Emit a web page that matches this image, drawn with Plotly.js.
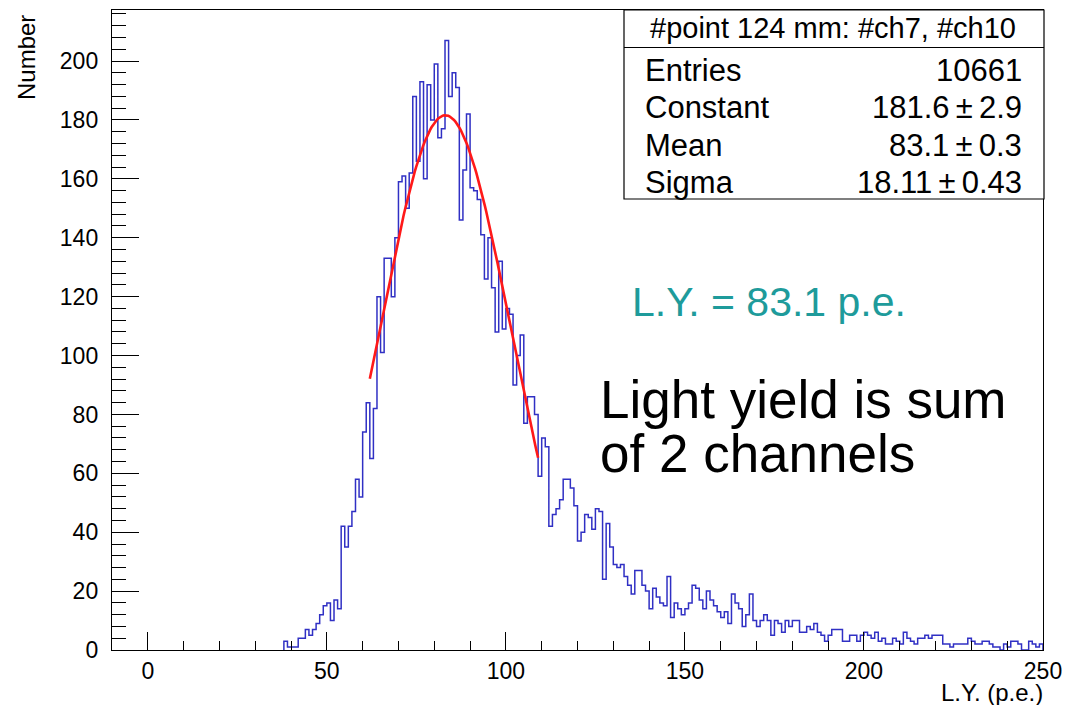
<!DOCTYPE html>
<html>
<head>
<meta charset="utf-8">
<script src="https://cdn.plot.ly/plotly-3.0.1.min.js"></script>
<style>html,body{margin:0;padding:0;background:#fff;}#chart{width:1065px;height:705px;}</style>
</head>
<body>
<div id="chart"></div>
<script>
// Histogram: bins of width 1 p.e., first bin starts at 38
const binStart = 38;
const binWidth = 1;
const counts = [
  3,1,1,1,4,4,7,5,7,9,
  12,15,16,10,17,14,42,35,42,47,
  58,52,74,84,65,82,120,101,133,133,
  120,140,159,161,150,162,188,166,193,160,
  192,180,199,174,177,207,188,196,191,146,
  163,182,157,156,153,141,126,140,123,108,
  132,109,116,114,90,100,107,77,86,86,
  80,59,72,69,42,46,48,51,58,58,
  55,49,37,40,46,45,41,48,47,24,
  43,35,29,28,29,25,22,19,27,27,
  22,20,14,21,18,16,15,25,11,16,
  14,12,14,16,22,21,17,14,20,17,
  15,13,11,13,9,19,16,14,8,12,
  19,10,8,10,12,10,5,10,9,6,
  10,8,10,10,6,6,8,7,9,6,
  5,3,5,7,7,7,3,3,5,5,
  3,5,6,5,4,6,3,4,2,2,
  4,3,2,6,4,3,2,4,4,5,
  4,5,5,5,2,2,1,2,2,2,
  2,4,3,2,2,3,3,2,1,1,
  0,2,1,3,3,2,0,0,3,2,
  1,2
];

// Gaussian fit parameters (from stats box) and fit range
const fitConstant = 181.6;
const fitMean = 83.1;
const fitSigma = 18.11;
const fitRange = [62, 109];

const statsTitle = '#point 124 mm: #ch7, #ch10';
const statsLabels = ['Entries', 'Constant', 'Mean', 'Sigma'];
const statsValues = ['10661', '181.6\u2009\u00b1\u20092.9', '83.1\u2009\u00b1\u20090.3', '18.11\u2009\u00b1\u20090.43'];

const xTitle = 'L.Y. (p.e.)';
const yTitle = 'Number';
const lyText = 'L.Y. = 83.1 p.e.';
const noteLines = ['Light yield is sum', 'of 2 channels'];

// build histogram outline
const hx = [binStart], hy = [0];
for (let i = 0; i < counts.length; i++) {
  hx.push(binStart + i * binWidth);
  hy.push(counts[i]);
}
hx.push(binStart + counts.length * binWidth); hy.push(counts[counts.length - 1]);
hx.push(binStart + counts.length * binWidth); hy.push(0);

// fit curve
const fx = [], fy = [];
const nF = 120;
for (let i = 0; i <= nF; i++) {
  const x = fitRange[0] + (fitRange[1] - fitRange[0]) * i / nF;
  fx.push(x);
  fy.push(fitConstant * Math.exp(-0.5 * Math.pow((x - fitMean) / fitSigma, 2)));
}

const FONT = 'Liberation Sans, Arial, Helvetica, sans-serif';

const traces = [
  {x: hx, y: hy, type: 'scatter', mode: 'lines', line: {shape: 'hv', color: 'rgb(48,48,196)', width: 1.5}, hoverinfo: 'skip'},
  {x: fx, y: fy, type: 'scatter', mode: 'lines', line: {color: 'rgb(255,25,25)', width: 2.6}, hoverinfo: 'skip'}
];

// layout geometry helpers (pixels -> paper)
const L = 112, R = 1043, T = 10, B = 650;
const px = v => (v - L) / (R - L);
const py = v => (B - v) / (B - T);

const annotations = [
  {text: yTitle, xref: 'paper', yref: 'paper', x: px(27), y: py(58), textangle: -90, showarrow: false,
   xanchor: 'center', yanchor: 'middle', font: {family: FONT, size: 24, color: '#000'}},
  {text: xTitle, xref: 'paper', yref: 'paper', x: px(1045), y: py(692), showarrow: false,
   xanchor: 'right', yanchor: 'middle', font: {family: FONT, size: 24, color: '#000'}},
  {text: statsTitle, xref: 'paper', yref: 'paper', x: px(833), y: py(28), showarrow: false,
   xanchor: 'center', yanchor: 'middle', font: {family: FONT, size: 29, color: '#000'}},
  {text: lyText, xref: 'paper', yref: 'paper', x: px(630), y: py(302), showarrow: false,
   xanchor: 'left', yanchor: 'middle', font: {family: FONT, size: 41, color: 'rgb(30,155,155)'}},
  {text: noteLines[0], xref: 'paper', yref: 'paper', x: px(598), y: py(399), showarrow: false,
   xanchor: 'left', yanchor: 'middle', font: {family: FONT, size: 53, color: '#000'}},
  {text: noteLines[1], xref: 'paper', yref: 'paper', x: px(598), y: py(453), showarrow: false,
   xanchor: 'left', yanchor: 'middle', font: {family: FONT, size: 53, color: '#000'}}
];
const rowY = [70, 108, 145, 182];
statsLabels.forEach((s, i) => {
  annotations.push({text: s, xref: 'paper', yref: 'paper', x: px(643), y: py(rowY[i]), showarrow: false,
    xanchor: 'left', yanchor: 'middle', font: {family: FONT, size: 31, color: '#000'}});
  annotations.push({text: statsValues[i], xref: 'paper', yref: 'paper', x: px(1024), y: py(rowY[i]), showarrow: false,
    xanchor: 'right', yanchor: 'middle', font: {family: FONT, size: 31, color: '#000'}});
});

const shapes = [
  {type: 'rect', xref: 'paper', yref: 'paper', x0: px(624), x1: px(1044), y0: py(199), y1: py(10),
   line: {color: '#000', width: 1.2}, fillcolor: 'rgba(255,255,255,1)', layer: 'above'},
  {type: 'line', xref: 'paper', yref: 'paper', x0: px(624), x1: px(1044), y0: py(47.5), y1: py(47.5),
   line: {color: '#000', width: 1.2}, layer: 'above'}
];

const layout = {
  width: 1065, height: 705,
  margin: {l: L, r: 1065 - R, t: T, b: 705 - B, pad: 0},
  paper_bgcolor: '#fff', plot_bgcolor: '#fff',
  showlegend: false,
  font: {family: FONT, color: '#000'},
  xaxis: {
    range: [-10, 250], showgrid: false, zeroline: false,
    showline: true, linecolor: '#000', linewidth: 1.2, mirror: true,
    ticks: 'inside', ticklen: 18, tickwidth: 1, tickcolor: '#000',
    tick0: 0, dtick: 50, tickfont: {family: FONT, size: 23, color: '#000'},
    ticklabelstandoff: 0,
    minor: {ticks: 'inside', ticklen: 9, dtick: 10, tick0: 0, tickwidth: 1, tickcolor: '#000', showgrid: false}
  },
  yaxis: {
    range: [0, 217.35], showgrid: false, zeroline: false,
    showline: true, linecolor: '#000', linewidth: 1.2, mirror: true,
    ticks: 'inside', ticklen: 27, tickwidth: 1, tickcolor: '#000',
    tick0: 0, dtick: 20, tickfont: {family: FONT, size: 23, color: '#000'},
    ticklabelstandoff: 8,
    minor: {ticks: 'inside', ticklen: 14, dtick: 4, tick0: 0, tickwidth: 1, tickcolor: '#000', showgrid: false}
  },
  annotations: annotations,
  shapes: shapes
};

Plotly.newPlot('chart', traces, layout, {displayModeBar: false, staticPlot: true});
</script>
</body>
</html>
